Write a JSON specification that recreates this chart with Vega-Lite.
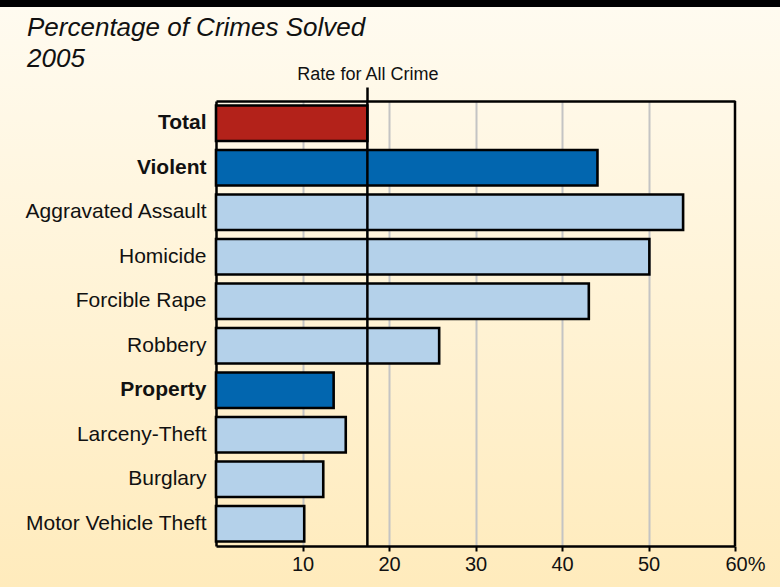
{
  "$schema": "https://vega.github.io/schema/vega-lite/v6.json",
  "width": 780,
  "height": 587,
  "padding": 0,
  "autosize": {"type": "none"},
  "background": "#fff4d8",
  "config": {
    "font": "Liberation Sans",
    "view": {
      "stroke": null,
      "fill": {
        "gradient": "linear",
        "x1": 0, "y1": 0, "x2": 0, "y2": 1,
        "stops": [
          {"offset": 0, "color": "#000000"},
          {"offset": 0.0115, "color": "#000000"},
          {"offset": 0.0125, "color": "#fffbf0"},
          {"offset": 1, "color": "#ffebbc"}
        ]
      }
    }
  },
  "title": {
    "text": ["Percentage of Crimes Solved", "2005"],
    "anchor": "start",
    "frame": "group",
    "baseline": "alphabetic",
    "offset": -93,
    "dx": 27,
    "font": "Liberation Sans",
    "fontSize": 26,
    "fontStyle": "italic",
    "fontWeight": "normal",
    "lineHeight": 31,
    "color": "#111111"
  },
  "layer": [
    {
      "data": {
        "values": [
          {"crime": "Total", "group": "Total", "pct": 17.5},
          {"crime": "Violent", "group": "Category", "pct": 44.1},
          {"crime": "Aggravated Assault", "group": "Offense", "pct": 54.0},
          {"crime": "Homicide", "group": "Offense", "pct": 50.1},
          {"crime": "Forcible Rape", "group": "Offense", "pct": 43.1},
          {"crime": "Robbery", "group": "Offense", "pct": 25.8},
          {"crime": "Property", "group": "Category", "pct": 13.6},
          {"crime": "Larceny-Theft", "group": "Offense", "pct": 15.0},
          {"crime": "Burglary", "group": "Offense", "pct": 12.4},
          {"crime": "Motor Vehicle Theft", "group": "Offense", "pct": 10.2}
        ]
      },
      "mark": {"type": "bar", "stroke": "#000000", "strokeWidth": 2.6},
      "encoding": {
        "y": {
          "field": "crime",
          "type": "nominal",
          "sort": null,
          "scale": {"range": [101, 546], "paddingInner": 0.2, "paddingOuter": 0.1},
          "axis": {
            "orient": "left",
            "offset": -216,
            "title": null,
            "domain": true,
            "domainColor": "#000000",
            "domainWidth": 2.5,
            "ticks": false,
            "labelPadding": 10,
            "labelFontSize": 21,
            "labelColor": "#111111",
            "labelLimit": 0,
            "labelFontWeight": {
              "condition": {"test": "indexof(['Total','Violent','Property'], datum.value) >= 0", "value": "bold"},
              "value": "normal"
            }
          }
        },
        "x": {
          "field": "pct",
          "type": "quantitative",
          "scale": {"domain": [0, 60], "range": [216, 735], "nice": false},
          "axis": {
            "orient": "bottom",
            "offset": -41,
            "title": null,
            "values": [10, 20, 30, 40, 50, 60],
            "domain": true,
            "domainColor": "#000000",
            "domainWidth": 2.5,
            "ticks": true,
            "tickColor": "#000000",
            "tickWidth": 2,
            "tickSize": 5,
            "labelPadding": 3,
            "labelFontSize": 20,
            "labelColor": "#111111",
            "labelFlush": false,
            "labelExpr": "datum.value == 60 ? '60%' : datum.label",
            "labelOffset": {"condition": {"test": "datum.value == 60", "value": 10}, "value": 0},
            "grid": false
          }
        },
        "color": {
          "field": "group",
          "type": "nominal",
          "scale": {"domain": ["Total", "Category", "Offense"], "range": ["#b3221a", "#0266af", "#b4d1ea"]},
          "legend": null
        }
      }
    },
    {
      "data": {"values": [{"label": "Rate for All Crime", "rate": 17.5}]},
      "mark": {"type": "rule", "color": "#000000", "strokeWidth": 2.5},
      "encoding": {
        "x": {
          "field": "rate",
          "type": "quantitative",
          "scale": {"domain": [0, 60], "range": [216, 735], "nice": false},
          "axis": {
            "orient": "top",
            "offset": -101,
            "title": null,
            "values": [17.5],
            "labelExpr": "'Rate for All Crime'",
            "labelFlush": false,
            "domain": true,
            "domainColor": "#000000",
            "domainWidth": 2.5,
            "ticks": true,
            "tickColor": "#000000",
            "tickWidth": 2.5,
            "tickSize": 14,
            "labelPadding": 4,
            "labelFontSize": 18,
            "labelColor": "#111111",
            "labelLimit": 0,
            "grid": false
          }
        },
        "y": {"datum": 0, "type": "quantitative", "scale": {"domain": [0, 1], "range": [546, 101]}, "axis": null},
        "y2": {"datum": 1}
      }
    },
    {
      "data": {"values": [{"edge": "right frame", "pct": 60}]},
      "mark": {"type": "rule", "color": "#000000", "strokeWidth": 2.5},
      "encoding": {
        "x": {
          "field": "pct",
          "type": "quantitative",
          "scale": {"domain": [0, 60], "range": [216, 735], "nice": false},
          "axis": {
            "orient": "top",
            "offset": -101,
            "title": null,
            "values": [10, 20, 30, 40, 50],
            "domain": false,
            "ticks": false,
            "labels": false,
            "grid": true,
            "gridColor": "#c4c4c4",
            "gridWidth": 2
          }
        },
        "y": {"datum": 0, "type": "quantitative", "scale": {"domain": [0, 1], "range": [546, 101]}, "axis": null},
        "y2": {"datum": 1}
      }
    }
  ],
  "resolve": {"scale": {"y": "independent"}, "axis": {"x": "independent", "y": "independent"}}
}
